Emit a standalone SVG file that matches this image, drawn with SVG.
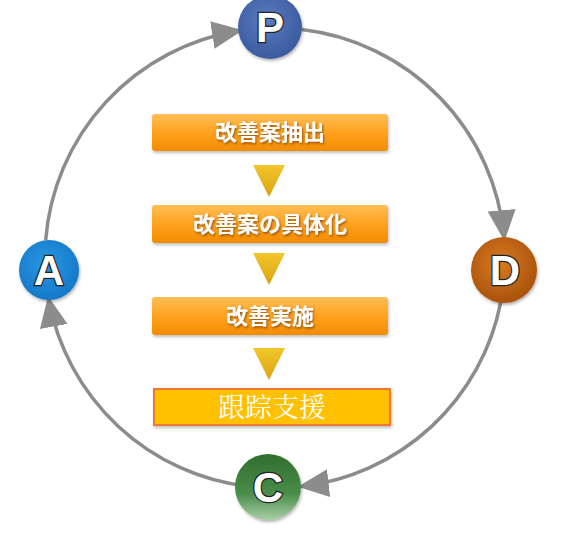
<svg xmlns="http://www.w3.org/2000/svg" width="567" height="548" viewBox="0 0 567 548">
<style>
.ring{fill:none;stroke:#8c8c8c;stroke-width:3.5;marker-end:url(#ah)}
.box{stroke:none;filter:url(#sh)}
.btxt{font-family:"Noto Sans CJK JP","Noto Sans CJK SC",sans-serif;font-weight:700;font-size:22px;fill:#fff;text-anchor:middle;filter:url(#tsh)}
.tri{fill:url(#tg)}
.lt{font-family:"Liberation Sans",Arial,sans-serif;font-weight:700;font-size:42px;fill:#fff;stroke:#222;stroke-width:2.5;paint-order:stroke;text-anchor:middle}
</style>
<defs>
<marker id="ah" markerUnits="userSpaceOnUse" markerWidth="32" markerHeight="30" refX="27" refY="14" orient="auto"><path d="M0,0 L31,14 L0,28 Z" fill="#8c8c8c"/></marker>
<linearGradient id="og" x1="0" y1="0" x2="0" y2="1"><stop offset="0" stop-color="#ffbe55"/><stop offset="0.5" stop-color="#ffa21f"/><stop offset="1" stop-color="#f28c00"/></linearGradient>
<linearGradient id="tg" x1="0" y1="0" x2="0" y2="1"><stop offset="0" stop-color="#f2c62a"/><stop offset="1" stop-color="#d9a414"/></linearGradient>
<radialGradient id="gP" cx="0.45" cy="0.4" r="0.6"><stop offset="0" stop-color="#5b7cc2"/><stop offset="1" stop-color="#3b5a9e"/></radialGradient>
<radialGradient id="gD" cx="0.45" cy="0.4" r="0.6"><stop offset="0" stop-color="#d97a22"/><stop offset="1" stop-color="#a9530c"/></radialGradient>
<linearGradient id="gC" x1="0" y1="0" x2="0" y2="1"><stop offset="0" stop-color="#2f6e2f"/><stop offset="0.6" stop-color="#4a8c4a"/><stop offset="1" stop-color="#a8cfa8"/></linearGradient>
<radialGradient id="gA" cx="0.45" cy="0.4" r="0.6"><stop offset="0" stop-color="#2a98e4"/><stop offset="1" stop-color="#1478c8"/></radialGradient>
<filter id="sh" x="-10%" y="-20%" width="120%" height="150%"><feDropShadow dx="1" dy="2" stdDeviation="1.5" flood-color="#000" flood-opacity="0.25"/></filter>
<filter id="tsh" x="-10%" y="-30%" width="120%" height="160%"><feDropShadow dx="1" dy="1.5" stdDeviation="1" flood-color="#7a3c00" flood-opacity="0.8"/></filter>
<filter id="csh" x="-20%" y="-20%" width="140%" height="140%"><feDropShadow dx="1" dy="2" stdDeviation="1.5" flood-color="#000" flood-opacity="0.3"/></filter>
</defs>
<rect width="567" height="548" fill="#fff"/>
<g id="connectors">
<path class="ring" d="M45.7,240 A230,230 0 0 1 239,30.8"/>
<path class="ring" d="M301.8,29.6 A230,230 0 0 1 504.1,237.2"/>
<path class="ring" d="M500.8,301.9 A230,230 0 0 1 301.8,486.4"/>
<path class="ring" d="M248.2,486.4 A230,230 0 0 1 48.8,299.9"/>
<polygon class="tri" points="253,165 285,165 269,197"/>
<polygon class="tri" points="253,253 285,253 269,285"/>
<polygon class="tri" points="253,348 285,348 269,380"/>
</g>
<g id="nodeP"><circle cx="270" cy="27" r="32" fill="url(#gP)" filter="url(#csh)"/><text class="lt" x="270" y="42">P</text></g>
<g id="nodeD"><circle cx="504" cy="270" r="33" fill="url(#gD)" filter="url(#csh)"/><text class="lt" x="505" y="285">D</text></g>
<g id="nodeC"><circle cx="268" cy="487" r="33" fill="url(#gC)" filter="url(#csh)"/><text class="lt" x="268" y="502">C</text></g>
<g id="nodeA"><circle cx="49" cy="270" r="30" fill="url(#gA)" filter="url(#csh)"/><text class="lt" x="49" y="285">A</text></g>
<g id="box1"><rect class="box" x="152" y="114" width="236" height="37" rx="3" fill="url(#og)"/><text class="btxt" x="270" y="140">改善案抽出</text></g>
<g id="box2"><rect class="box" x="152" y="205" width="236" height="38" rx="3" fill="url(#og)"/><text class="btxt" x="270" y="232">改善案の具体化</text></g>
<g id="box3"><rect class="box" x="152" y="297" width="236" height="38" rx="3" fill="url(#og)"/><text class="btxt" x="270" y="324">改善実施</text></g>
<g id="box4"><rect x="154" y="389" width="236" height="36" fill="#ffc000" stroke="#f07830" stroke-width="2" filter="url(#sh)"/><text x="272" y="417" font-family="'Noto Serif CJK SC','Noto Sans CJK SC',serif" font-size="27" fill="#fff" text-anchor="middle">跟踪支援</text></g>
</svg>
